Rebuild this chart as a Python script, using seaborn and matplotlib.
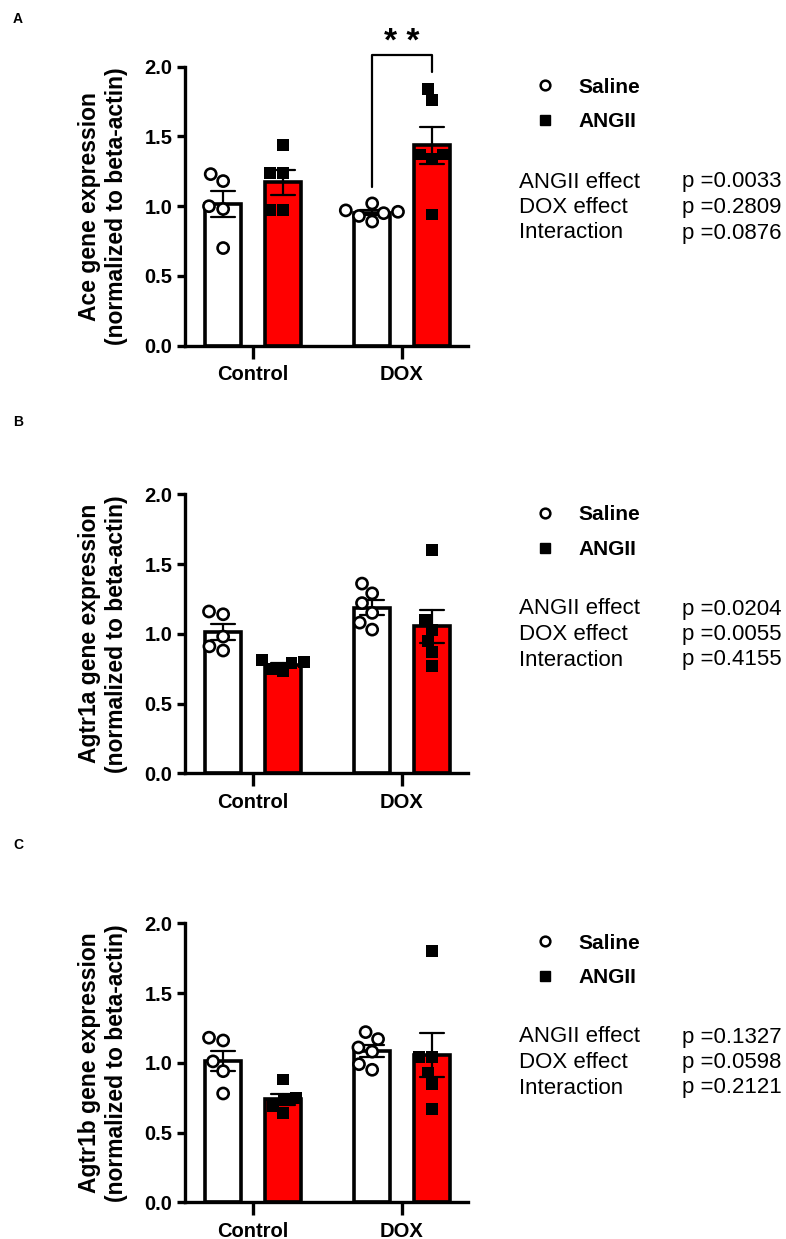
import numpy as np
import pandas as pd
import matplotlib
matplotlib.use("Agg")
import matplotlib.pyplot as plt
from matplotlib.lines import Line2D
import seaborn as sns
import warnings
warnings.filterwarnings("ignore")

# values
genes = ["Ace", "Agtr1a", "Agtr1b"]
panel_letters = ["A", "B", "C"]
groups = ["Control", "DOX"]
treatments = ["Saline", "ANGII"]

ace_ctrl_saline = [1.23, 1.18, 1.00, 0.98, 0.70]
ace_ctrl_angii = [1.44, 1.24, 1.24, 0.97, 0.97]
ace_dox_saline = [0.93, 0.97, 0.96, 0.95, 1.02, 0.89]
ace_dox_angii = [1.84, 1.76, 1.34, 1.37, 1.37, 0.94]

agtr1a_ctrl_saline = [1.16, 1.14, 0.98, 0.88, 0.91]
agtr1a_ctrl_angii = [0.81, 0.79, 0.75, 0.73, 0.80]
agtr1a_dox_saline = [1.29, 1.36, 1.22, 1.15, 1.03, 1.08]
agtr1a_dox_angii = [1.60, 1.10, 1.03, 0.95, 0.87, 0.77]

agtr1b_ctrl_saline = [1.18, 1.16, 1.01, 0.94, 0.78]
agtr1b_ctrl_angii = [0.88, 0.75, 0.73, 0.69, 0.64]
agtr1b_dox_saline = [1.17, 1.22, 1.08, 1.11, 0.95, 0.99]
agtr1b_dox_angii = [1.80, 1.04, 1.04, 0.93, 0.85, 0.67]

stat_labels = ["ANGII effect", "DOX effect", "Interaction"]
p_ace = ["0.0033", "0.2809", "0.0876"]
p_agtr1a = ["0.0204", "0.0055", "0.4155"]
p_agtr1b = ["0.1327", "0.0598", "0.2121"]

all_data = {
    "Ace": [ace_ctrl_saline, ace_ctrl_angii, ace_dox_saline, ace_dox_angii],
    "Agtr1a": [agtr1a_ctrl_saline, agtr1a_ctrl_angii, agtr1a_dox_saline, agtr1a_dox_angii],
    "Agtr1b": [agtr1b_ctrl_saline, agtr1b_ctrl_angii, agtr1b_dox_saline, agtr1b_dox_angii],
}
all_p = {"Ace": p_ace, "Agtr1a": p_agtr1a, "Agtr1b": p_agtr1b}

sns.set_style("ticks")
plt.rcParams["font.family"] = ["Liberation Sans", "DejaVu Sans"]
plt.rcParams["text.color"] = "black"
plt.rcParams["axes.labelcolor"] = "black"
plt.rcParams["xtick.color"] = "black"
plt.rcParams["ytick.color"] = "black"
plt.rcParams["axes.edgecolor"] = "black"

W, H = 786, 1239
fig = plt.figure(figsize=(W / 100, H / 100), dpi=100)

# pixel layout of each panel (axes bottom y, letter y, legend center y, first stats row y)
axis_bottom_px = [345.7, 773.3, 1202.3]
letter_px = [19, 422, 845]
legend_px = [104.5, 532, 960.5]
stats_px = [182, 609, 1037]

bar_palette = {"Saline": "white", "ANGII": "#ff0000"}
pt_palette = {"Saline": "white", "ANGII": "black"}

for i, gene in enumerate(genes):
    vals = all_data[gene]
    rows = []
    for k, (g, t) in enumerate([(g, t) for g in groups for t in treatments]):
        for v in vals[k]:
            rows.append({"group": g, "treatment": t, "value": v})
    df = pd.DataFrame(rows)

    bottom = 1 - axis_bottom_px[i] / H
    ax = fig.add_axes([185 / W, bottom, 283 / W, 279 / H])

    sns.barplot(data=df, x="group", y="value", hue="treatment", order=groups,
                hue_order=treatments, palette=bar_palette, saturation=1,
                errorbar="se", capsize=0.32,
                err_kws={"color": "black", "linewidth": 1.6},
                width=0.8, gap=0.4, edgecolor="black", linewidth=2.6,
                legend=False, ax=ax)
    sns.swarmplot(data=df[df.treatment == "Saline"], x="group", y="value",
                  hue="treatment", order=groups, hue_order=treatments,
                  palette=pt_palette, dodge=True, size=8, marker="o",
                  edgecolor="black", linewidth=1.9, legend=False, ax=ax, zorder=3)
    sns.swarmplot(data=df[df.treatment == "ANGII"], x="group", y="value",
                  hue="treatment", order=groups, hue_order=treatments,
                  palette=pt_palette, dodge=True, size=8.5, marker="s",
                  edgecolor="black", linewidth=0, legend=False, ax=ax, zorder=3)

    ax.set_xlim(-0.456, 1.443)
    ax.set_ylim(0, 2.0)
    ax.set_yticks([0, 0.5, 1.0, 1.5, 2.0])
    ax.set_yticklabels(["0.0", "0.5", "1.0", "1.5", "2.0"])
    ax.set_xlabel("")
    ax.set_ylabel(gene + " gene expression\n(normalized to beta-actin)",
                  fontsize=16.5, fontweight="bold", labelpad=12)
    sns.despine(ax=ax)
    for s in ["left", "bottom"]:
        ax.spines[s].set_linewidth(2.4)
    ax.tick_params(axis="y", length=6, width=2.4, labelsize=14.5, pad=3)
    ax.tick_params(axis="x", length=9, width=2.4, labelsize=14.5, pad=5)
    for lbl in ax.get_xticklabels() + ax.get_yticklabels():
        lbl.set_fontweight("bold")

    # significance bracket on panel A
    if i == 0:
        ax.plot([0.8, 0.8, 1.2, 1.2], [1.14, 2.084, 2.084, 1.964],
                color="black", linewidth=1.6, clip_on=False)
        ax.text(1.0, 2.06, "* *", ha="center", va="bottom", fontsize=24,
                fontweight="bold")

    fig.text(18 / W, 1 - letter_px[i] / H, panel_letters[i], ha="center",
             va="center", fontsize=10, fontweight="bold")

    handles = [Line2D([], [], linestyle="none", marker="o", markersize=7,
                      markerfacecolor="white", markeredgecolor="black",
                      markeredgewidth=1.8),
               Line2D([], [], linestyle="none", marker="s", markersize=7.5,
                      markerfacecolor="black", markeredgecolor="black")]
    fig.legend(handles, treatments, loc="center left",
               bbox_to_anchor=(535 / W, 1 - legend_px[i] / H), frameon=False,
               prop={"weight": "bold", "size": 15}, handlelength=1,
               handletextpad=1.1, borderpad=0, borderaxespad=0,
               labelspacing=0.75)

    for r, (lab, p) in enumerate(zip(stat_labels, all_p[gene])):
        y = 1 - (stats_px[i] + 25.5 * r) / H
        fig.text(519 / W, y, lab, ha="left", va="center", fontsize=16)
        fig.text(682 / W, y, "p =" + p, ha="left", va="center", fontsize=16)

fig.savefig("out.png", dpi=100)
